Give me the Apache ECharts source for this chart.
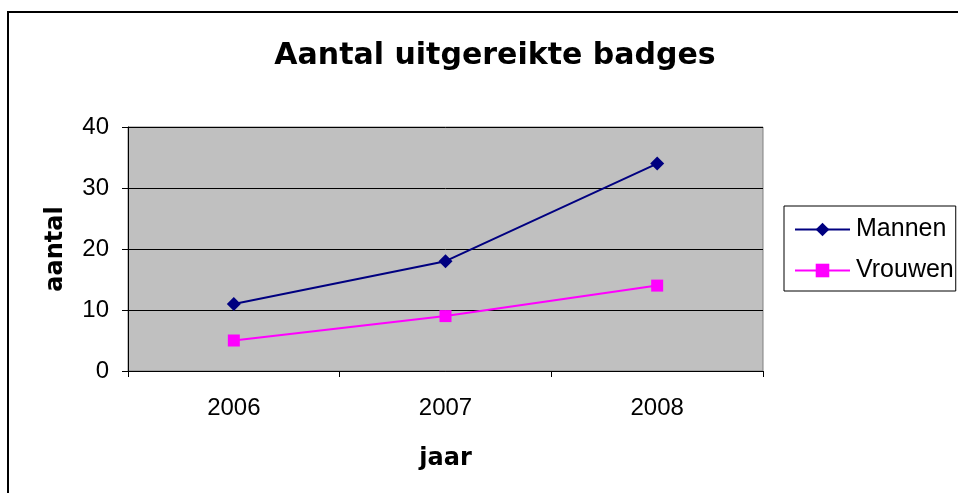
<!DOCTYPE html>
<html>
<head>
<meta charset="utf-8">
<script src="https://cdn.jsdelivr.net/npm/echarts@6/dist/echarts.min.js"></script>
<style>
  html, body { margin: 0; padding: 0; background: #fff; }
  #myecharts { width: 958px; height: 493px; }
</style>
</head>
<body>
<div id="myecharts"></div>
<script>
// jaren en aantallen
var jaren = ['2006', '2007', '2008'];
var mannen = [11, 18, 34];
var vrouwen = [5, 9, 14];

var hh = document.getElementById('myecharts');
var echart = echarts.init(hh, null, { renderer: 'canvas' });

var font = 'Liberation Sans, Arial, sans-serif';
var boldFont = 'DejaVu Sans, sans-serif'; // breder, lijkt op de gespatieerde titel

var option = {
  animation: false,
  backgroundColor: '#fff',
  textStyle: { fontFamily: font },
  graphic: [{
    type: 'rect',
    shape: { x: 8, y: 12, width: 960, height: 500 },
    style: { fill: 'none', stroke: '#000', lineWidth: 2 }
  }],
  title: {
    text: 'Aantal uitgereikte badges',
    left: 490,
    textAlign: 'center',
    top: 36,
    textStyle: { fontFamily: boldFont, fontSize: 30, fontWeight: 'bold', color: '#000' }
  },
  legend: {
    left: 784,
    top: 206,
    orient: 'vertical',
    padding: [11, 2, 8, 10],
    itemGap: 16,
    itemWidth: 55,
    itemHeight: 17,
    borderColor: '#000',
    borderWidth: 1,
    textStyle: { fontFamily: font, fontSize: 25, color: '#000', padding: [0, 0, 0, 1] },
    data: ['Mannen', 'Vrouwen']
  },
  grid: {
    left: 128, right: 195, top: 127, bottom: 122,
    show: true,
    backgroundColor: '#C0C0C0',
    borderColor: '#808080',
    borderWidth: 1
  },
  xAxis: {
    type: 'category',
    data: jaren,
    boundaryGap: true,
    name: 'jaar',
    nameLocation: 'middle',
    nameGap: 76,
    nameTextStyle: { fontFamily: boldFont, fontSize: 24, fontWeight: 'bold', color: '#000' },
    axisLine: { lineStyle: { color: '#000', width: 1 } },
    axisTick: { show: true, length: 6, lineStyle: { color: '#000' } },
    axisLabel: { fontFamily: font, fontSize: 24, color: '#000', margin: 25 },
    splitLine: { show: false }
  },
  yAxis: {
    type: 'value',
    min: 0,
    max: 40,
    interval: 10,
    name: 'aantal',
    nameLocation: 'middle',
    nameGap: 60,
    nameTextStyle: { fontFamily: boldFont, fontSize: 24, fontWeight: 'bold', color: '#000' },
    axisLine: { show: true, lineStyle: { color: '#000', width: 1 } },
    axisTick: { show: true, length: 6, lineStyle: { color: '#000' } },
    axisLabel: { fontFamily: font, fontSize: 24, color: '#000', margin: 19 },
    splitLine: { show: true, lineStyle: { color: '#000', width: 1 } }
  },
  series: [{
    name: 'Mannen',
    type: 'line',
    data: mannen,
    symbol: 'diamond',
    symbolSize: 14,
    itemStyle: { color: '#000080' },
    lineStyle: { color: '#000080', width: 2 }
  }, {
    name: 'Vrouwen',
    type: 'line',
    data: vrouwen,
    symbol: 'rect',
    symbolSize: 12,
    itemStyle: { color: '#FF00FF' },
    lineStyle: { color: '#FF00FF', width: 2 }
  }]
};

echart.setOption(option);

window.addEventListener('resize', function() {
    if (echart) {
        echart.resize();
    }
});
</script>
</body>
</html>
